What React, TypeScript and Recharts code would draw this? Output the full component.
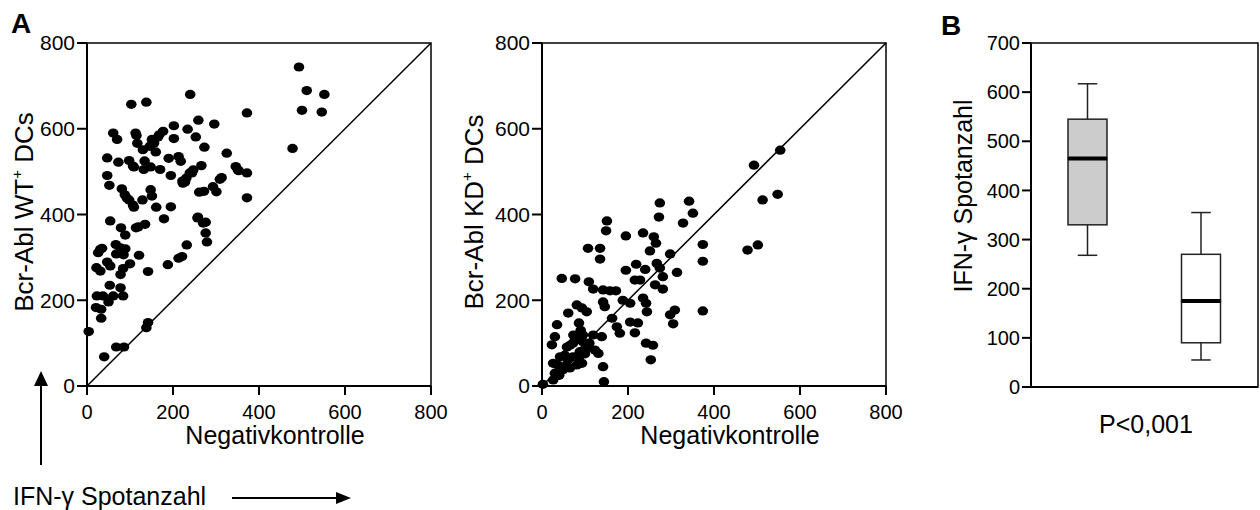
import React from "react";
import {
  ScatterChart,
  Scatter,
  ComposedChart,
  Bar,
  XAxis,
  YAxis,
  ReferenceLine,
  ReferenceArea,
  Label,
} from "recharts";

// Negativkontrolle (x) vs Bcr-Abl WT+ DCs (y)
const wtPoints: [number, number][] = [
  [493, 744], [511, 689], [552, 680], [500, 643], [546, 639], [478, 554],
  [372, 637], [372, 497], [372, 439], [296, 611], [240, 680], [103, 657],
  [138, 662], [259, 620], [202, 607], [234, 599], [253, 581], [273, 557],
  [325, 543], [346, 512], [351, 504], [266, 514], [247, 504], [239, 497],
  [231, 485], [222, 478], [261, 452], [272, 454], [293, 465], [301, 453],
  [309, 482], [313, 486], [257, 392], [276, 382], [276, 357], [279, 336],
  [232, 329], [221, 302], [213, 298], [188, 283], [195, 418], [179, 390],
  [195, 491], [190, 531], [213, 535], [218, 524], [202, 577], [170, 505],
  [160, 546], [177, 594], [168, 586], [151, 575], [146, 559], [156, 567],
  [148, 511], [134, 525], [132, 505], [148, 458], [151, 443], [161, 417],
  [129, 434], [135, 377], [114, 369], [142, 267], [121, 305], [100, 285],
  [115, 584], [117, 566], [113, 590], [98, 526], [107, 513], [73, 522],
  [47, 532], [47, 491], [52, 468], [61, 590], [70, 575], [81, 460],
  [88, 446], [98, 434], [107, 422], [54, 385], [79, 369], [89, 352],
  [67, 330], [78, 322], [89, 320], [68, 308], [85, 306], [31, 319],
  [26, 311], [35, 321], [47, 289], [54, 280], [22, 276], [31, 268],
  [84, 274], [78, 260], [53, 235], [78, 229], [84, 210], [61, 210],
  [50, 196], [23, 210], [37, 210], [21, 183], [33, 179], [33, 158],
  [4, 127], [40, 68], [68, 91], [86, 91], [138, 136], [142, 148],
  [130, 551], [165, 581], [244, 497], [228, 476], [223, 473], [353, 502],
  [93, 438], [109, 417], [119, 371], [258, 394], [270, 380], [109, 511],
];

// Negativkontrolle (x) vs Bcr-Abl KD+ DCs (y)
const kdPoints: [number, number][] = [
  [554, 550], [493, 515], [513, 434], [548, 447], [478, 317], [502, 329],
  [374, 330], [374, 291], [374, 175], [274, 427], [342, 431], [272, 394],
  [351, 403], [328, 380], [151, 385], [149, 362], [195, 350], [235, 357],
  [260, 348], [265, 333], [251, 315], [298, 308], [107, 321], [135, 321],
  [135, 296], [219, 284], [240, 272], [267, 286], [274, 275], [281, 255],
  [314, 265], [195, 270], [216, 247], [228, 247], [263, 236], [281, 226],
  [46, 251], [77, 250], [109, 243], [119, 226], [142, 224], [158, 222],
  [172, 222], [142, 196], [146, 185], [188, 200], [205, 193], [235, 205],
  [242, 193], [244, 173], [298, 166], [309, 177], [305, 145], [81, 189],
  [93, 182], [104, 173], [61, 170], [35, 143], [30, 115], [23, 96],
  [86, 147], [73, 119], [95, 119], [119, 119], [139, 115], [163, 158],
  [174, 138], [181, 123], [205, 149], [223, 147], [216, 124], [242, 100],
  [258, 95], [253, 61], [58, 91], [53, 72], [42, 68], [26, 53],
  [72, 68], [88, 80], [105, 89], [123, 84], [131, 76], [81, 49],
  [65, 42], [49, 38], [30, 30], [26, 14], [2, 4], [142, 45],
  [144, 10], [93, 53], [95, 103], [72, 100], [60, 60], [50, 45],
  [85, 65], [35, 50], [65, 95], [78, 110], [90, 130], [110, 100],
  [40, 25], [100, 75],
];

const scatterTicks = [0, 200, 400, 600, 800];

// box plot (B)
const boxGroups = ["WT", "KD"];
const boxMin = [268, 55];
const boxQ1 = [330, 90];
const boxMedian = [465, 175];
const boxQ3 = [545, 270];
const boxMax = [617, 355];
const boxTicks = [0, 100, 200, 300, 400, 500, 600, 700];

const FONT = '"Liberation Sans", Arial, Helvetica, sans-serif';
const BOX_FILL: Record<string, string> = { WT: "#cccccc", KD: "#ffffff" };

const boxData = boxGroups.map((name, i) => ({
  name,
  base: boxMin[i],
  lowWhisker: boxQ1[i] - boxMin[i],
  lowBox: boxMedian[i] - boxQ1[i],
  highBox: boxQ3[i] - boxMedian[i],
  highWhisker: boxMax[i] - boxQ3[i],
}));

const axisLine = { stroke: "#000", strokeWidth: 2 };
const tickFont = { fill: "#000", fontSize: 20, fontFamily: FONT };

const EllipseDot = (props: any) => (
  <ellipse cx={props.cx} cy={props.cy} rx={5.3} ry={4.6} fill="#000" />
);

function ScatterPanel({
  left,
  points,
  tag,
  titleY,
}: {
  left: number;
  points: [number, number][];
  tag: string;
  titleY: number;
}) {
  const data = points.map(([x, y]) => ({ x, y }));
  return (
    <div style={{ position: "absolute", left, top: 0 }}>
      <ScatterChart
        width={462}
        height={510}
        margin={{ top: 43, right: 31, bottom: 64, left: 0 }}
        style={{ fontFamily: FONT }}
      >
        <XAxis
          type="number"
          dataKey="x"
          domain={[0, 800]}
          ticks={scatterTicks}
          height={60}
          tickSize={9}
          tickMargin={10}
          tick={tickFont}
          axisLine={axisLine}
          tickLine={axisLine}
        >
          <Label
            content={() => (
              <text x={275} y={444} textAnchor="middle" fontSize={25} fill="#000" fontFamily={FONT}>
                Negativkontrolle
              </text>
            )}
          />
        </XAxis>
        <YAxis
          type="number"
          dataKey="y"
          domain={[0, 800]}
          ticks={scatterTicks}
          width={87}
          tickSize={10}
          tickMargin={2}
          tick={{ ...tickFont, fontSize: 21 }}
          axisLine={axisLine}
          tickLine={axisLine}
        >
          <Label
            content={() => (
              <text
                x={titleY}
                y={212}
                textAnchor="middle"
                fontSize={26}
                fill="#000"
                fontFamily={FONT}
                transform={`rotate(-90, ${titleY}, 212)`}
              >
                <tspan>{`Bcr-Abl ${tag}`}</tspan>
                <tspan fontSize={15} dy={-11}>+</tspan>
                <tspan dy={11}> DCs</tspan>
              </text>
            )}
          />
        </YAxis>
        <ReferenceArea x1={0} x2={800} y1={0} y2={800} fill="none" stroke="#000" strokeWidth={1.5} />
        <ReferenceLine
          segment={[
            { x: 0, y: 0 },
            { x: 800, y: 800 },
          ]}
          stroke="#000"
          strokeWidth={1.5}
        />
        <Scatter data={data} shape={EllipseDot} isAnimationActive={false} />
      </ScatterChart>
    </div>
  );
}

const Hidden = () => null;

const LowWhisker = (props: any) => {
  const { x, y, width, height } = props;
  const cx = x + width / 2;
  return (
    <g stroke="#222" strokeWidth={1.5}>
      <line x1={cx} y1={y} x2={cx} y2={y + height} />
      <line x1={x + width / 4} y1={y + height} x2={x + (3 * width) / 4} y2={y + height} />
    </g>
  );
};

const HighWhisker = (props: any) => {
  const { x, y, width, height } = props;
  const cx = x + width / 2;
  return (
    <g stroke="#222" strokeWidth={1.5}>
      <line x1={cx} y1={y} x2={cx} y2={y + height} />
      <line x1={x + width / 4} y1={y} x2={x + (3 * width) / 4} y2={y} />
    </g>
  );
};

const LowBox = (props: any) => {
  const { x, y, width, height, payload } = props;
  return (
    <rect x={x} y={y} width={width} height={height} fill={BOX_FILL[payload.name]} stroke="#222" strokeWidth={1.5} />
  );
};

const HighBox = (props: any) => {
  const { x, y, width, height, payload } = props;
  return (
    <g>
      <rect x={x} y={y} width={width} height={height} fill={BOX_FILL[payload.name]} stroke="#222" strokeWidth={1.5} />
      <line x1={x} y1={y + height} x2={x + width} y2={y + height} stroke="#000" strokeWidth={4} />
    </g>
  );
};

function BoxPanel() {
  return (
    <div style={{ position: "absolute", left: 930, top: 0 }}>
      <ComposedChart
        width={330}
        height={510}
        data={boxData}
        margin={{ top: 43, right: 2, bottom: 63, left: 0 }}
        style={{ fontFamily: FONT }}
      >
        <XAxis dataKey="name" height={60} tick={false} tickLine={false} axisLine={axisLine}>
          <Label
            content={() => (
              <text x={216} y={433} textAnchor="middle" fontSize={25} fill="#000" fontFamily={FONT}>
                P&lt;0,001
              </text>
            )}
          />
        </XAxis>
        <YAxis
          type="number"
          domain={[0, 700]}
          ticks={boxTicks}
          width={101}
          tickSize={9}
          tickMargin={2}
          tick={{ ...tickFont, fontSize: 20 }}
          axisLine={axisLine}
          tickLine={axisLine}
        >
          <Label
            content={() => (
              <text
                x={42}
                y={196}
                textAnchor="middle"
                fontSize={25}
                fill="#000"
                fontFamily={FONT}
                transform="rotate(-90, 42, 196)"
              >
                IFN-γ Spotanzahl
              </text>
            )}
          />
        </YAxis>
        <ReferenceArea y1={0} y2={700} fill="none" stroke="#000" strokeWidth={1.5} />
        <Bar dataKey="base" stackId="box" barSize={39} shape={Hidden} isAnimationActive={false} />
        <Bar dataKey="lowWhisker" stackId="box" barSize={39} shape={LowWhisker} isAnimationActive={false} />
        <Bar dataKey="lowBox" stackId="box" barSize={39} shape={LowBox} isAnimationActive={false} />
        <Bar dataKey="highBox" stackId="box" barSize={39} shape={HighBox} isAnimationActive={false} />
        <Bar dataKey="highWhisker" stackId="box" barSize={39} shape={HighWhisker} isAnimationActive={false} />
      </ComposedChart>
    </div>
  );
}

export default function App() {
  return (
    <div
      style={{
        position: "absolute",
        left: 0,
        top: 0,
        width: 1260,
        height: 510,
        background: "#fff",
        fontFamily: FONT,
        overflow: "hidden",
      }}
    >
      <ScatterPanel left={0} points={wtPoints} tag="WT" titleY={33} />
      <ScatterPanel left={455} points={kdPoints} tag="KD" titleY={28} />
      <BoxPanel />
      <svg
        width={1260}
        height={510}
        style={{ position: "absolute", left: 0, top: 0, pointerEvents: "none" }}
        fontFamily={FONT}
      >
        <text x={11} y={33} fontSize={28} fontWeight="bold" fill="#000">A</text>
        <text x={941} y={35} fontSize={28} fontWeight="bold" fill="#000">B</text>
        <line x1={41} y1={465} x2={41} y2={384} stroke="#000" strokeWidth={2} />
        <polygon points="41,371 34,386 48,386" fill="#000" />
        <text x={13} y={505} fontSize={25} fill="#000">IFN-γ Spotanzahl</text>
        <line x1={232} y1={498} x2={338} y2={498} stroke="#000" strokeWidth={2} />
        <polygon points="351,498 336,492 336,504" fill="#000" />
      </svg>
    </div>
  );
}
